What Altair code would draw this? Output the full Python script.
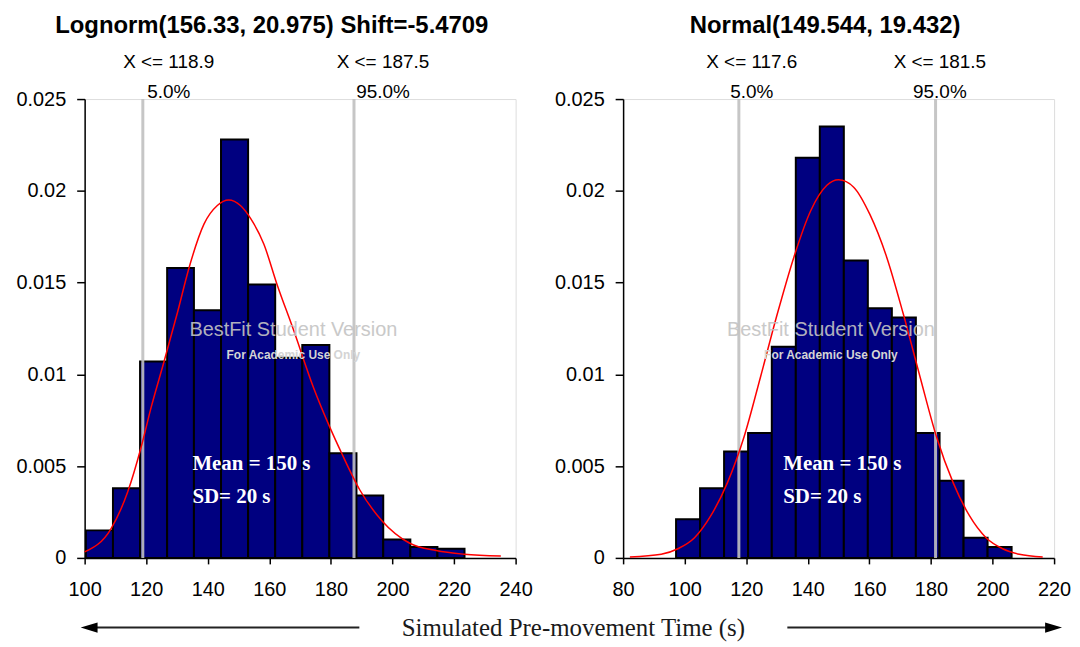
import altair as alt
import pandas as pd

# ---------------- Left panel: Lognorm fit ----------------
left_title = "Lognorm(156.33, 20.975) Shift=-5.4709"
left_ticks = [100, 120, 140, 160, 180, 200, 220, 240]
left_bin_lo = [100.4, 109.2, 118.0, 126.8, 135.5, 144.3, 153.1, 161.9, 170.7, 179.5, 188.3, 197.0, 205.8, 214.6]
left_bin_hi = [109.2, 118.0, 126.8, 135.5, 144.3, 153.1, 161.9, 170.7, 179.5, 188.3, 197.0, 205.8, 214.6, 223.4]
left_density = [0.0015, 0.0038, 0.0107, 0.0158, 0.0135, 0.0228, 0.0149, 0.0109, 0.0116, 0.0057, 0.0034, 0.0010, 0.0006, 0.0005]
left_curve_x = [100.0, 108.6, 114.0, 118.3, 121.6, 125.8, 130.2, 133.9, 138.8, 143.1, 146.8, 150.6, 153.9,
                158.2, 162.5, 167.9, 174.3, 179.7, 183.5, 189.4, 196.7, 205.6, 214.2, 223.3, 235.2]
left_curve_y = [0.00033, 0.0016, 0.0036, 0.0060, 0.0082, 0.0107, 0.0134, 0.0158, 0.0182, 0.0192, 0.0195, 0.0192, 0.0185,
                0.0171, 0.0149, 0.0124, 0.0093, 0.0071, 0.0057, 0.0037, 0.0020, 0.0008, 0.0004, 0.0002, 0.0001]
left_cutoffs = [118.9, 187.5]
left_cut_text = ["X <= 118.9", "X <= 187.5"]
left_pct_text = ["5.0%", "95.0%"]

# ---------------- Right panel: Normal fit ----------------
right_title = "Normal(149.544, 19.432)"
right_ticks = [80, 100, 120, 140, 160, 180, 200, 220]
right_bin_lo = [97.2, 105.0, 112.8, 120.6, 128.3, 136.1, 143.9, 151.7, 159.5, 167.3, 175.1, 182.8, 190.6, 198.4]
right_bin_hi = [105.0, 112.8, 120.6, 128.3, 136.1, 143.9, 151.7, 159.5, 167.3, 175.1, 182.8, 190.6, 198.4, 206.2]
right_density = [0.0021, 0.0038, 0.0058, 0.0068, 0.0115, 0.0218, 0.0235, 0.0162, 0.0136, 0.0131, 0.0068, 0.0042, 0.0011, 0.0006]
right_curve_x = [82.2, 92.4, 97.8, 103.2, 108.5, 113.9, 119.3, 124.7, 130.1, 135.5, 140.9, 146.2, 150.0,
                 154.9, 160.2, 165.6, 171.0, 176.4, 181.8, 187.2, 192.5, 197.9, 203.3, 208.7, 216.3]
right_curve_y = [0.00005, 0.0002, 0.0005, 0.0011, 0.0023, 0.0041, 0.0066, 0.0099, 0.0133, 0.0164, 0.0189, 0.0203, 0.0206,
                 0.0202, 0.0187, 0.0164, 0.0133, 0.0099, 0.0066, 0.0041, 0.0023, 0.0011, 0.0005, 0.0002, 0.00005]
right_cutoffs = [117.6, 181.5]
right_cut_text = ["X <= 117.6", "X <= 181.5"]
right_pct_text = ["5.0%", "95.0%"]

# annotation anchors (data units)
left_label_x = [127.3, 196.9]
right_label_x = [121.8, 182.9]
stats_text = ["Mean = 150 s", "SD= 20 s"]
stats_y = [0.00478, 0.00298]
watermark_text = ["BestFit Student Version", "For Academic Use Only"]
watermark_y = [0.01243, 0.01105]

W, H = 433, 461
SANS = "Liberation Sans"
SERIF = "Liberation Serif"


def panel(title, title_px, ticks, lo, hi, dens, cx, cy, cuts, cut_text, pct_text, label_x,
          stats_x, wm_x, extra=None):
    xs = alt.Scale(domain=[ticks[0], ticks[-1]], nice=False, zero=False)
    ys = alt.Scale(domain=[0, 0.025], nice=False)
    xax = alt.Axis(values=ticks, title=None, grid=False, tickSize=6, labelPadding=16,
                   labelFont=SANS, labelFontSize=20, labelColor="#000", labelFlush=False,
                   labelOverlap=False, domainColor="#000", domainWidth=1.5, tickColor="#000",
                   tickWidth=1.5)
    yax = alt.Axis(values=[0, 0.005, 0.01, 0.015, 0.02, 0.025], format=".3~f", title=None, grid=False,
                   tickSize=8, labelPadding=11, labelFont=SANS, labelFontSize=20, labelColor="#000",
                   labelFlush=False, labelOverlap=False, domainColor="#000", domainWidth=1.5,
                   tickColor="#000", tickWidth=1.5)

    bars_df = pd.DataFrame({"lo": lo, "hi": hi, "d": dens})
    bars = alt.Chart(bars_df).mark_rect(fill="#000080", stroke="#000000", strokeWidth=2).encode(
        x=alt.X("lo:Q", scale=xs, axis=xax),
        x2="hi:Q",
        y=alt.Y("d:Q", scale=ys, axis=yax),
        y2=alt.datum(0),
    )

    cut_df = pd.DataFrame({"c": cuts, "t": cut_text, "p": pct_text, "lx": label_x})
    rules = alt.Chart(cut_df).mark_rule(color="#c0c0c0", strokeWidth=3, opacity=0.9).encode(
        x="c:Q", y=alt.datum(0), y2=alt.datum(0.025)
    )
    cut_lbl = alt.Chart(cut_df).mark_text(font=SANS, fontSize=19, baseline="alphabetic",
                                          align="center", color="#000").encode(
        x="lx:Q", y=alt.value(-31), text="t:N")
    pct_lbl = alt.Chart(cut_df).mark_text(font=SANS, fontSize=19, baseline="alphabetic",
                                          align="center", color="#000").encode(
        x="lx:Q", y=alt.value(-1), text="p:N")

    curve_df = pd.DataFrame({"x": cx, "y": cy})
    curve = alt.Chart(curve_df).mark_line(color="#ff0000", strokeWidth=1.5, interpolate="monotone").encode(
        x="x:Q", y="y:Q")

    wm_df = pd.DataFrame({"t": watermark_text, "y": watermark_y, "x": [wm_x, wm_x],
                          "fs": [20, 12], "fw": ["normal", "bold"]})
    wm1 = alt.Chart(wm_df.iloc[[0]]).mark_text(font=SANS, fontSize=20, color="#c4c4c4", opacity=0.9,
                                               baseline="middle", align="center").encode(
        x="x:Q", y="y:Q", text="t:N")
    wm2 = alt.Chart(wm_df.iloc[[1]]).mark_text(font=SANS, fontSize=12, fontWeight="bold", color="#d4d4d4",
                                               baseline="middle", align="center").encode(
        x="x:Q", y="y:Q", text="t:N")

    st_df = pd.DataFrame({"t": stats_text, "y": stats_y, "x": [stats_x, stats_x]})
    stats = alt.Chart(st_df).mark_text(font=SERIF, fontSize=21, fontWeight="bold", color="#ffffff",
                                       baseline="alphabetic", align="left").encode(
        x="x:Q", y="y:Q", text="t:N")

    ttl_df = pd.DataFrame({"t": [title]})
    ttl = alt.Chart(ttl_df).mark_text(font=SANS, fontSize=24, fontWeight="bold", color="#000",
                                      baseline="alphabetic", align="center").encode(
        x=alt.value(title_px), y=alt.value(-66), text="t:N")

    layers = [bars, rules, curve, wm1, wm2, stats, cut_lbl, pct_lbl, ttl]
    if extra:
        layers += extra
    return alt.layer(*layers).properties(width=W, height=H)


# shared x-axis caption with arrows (drawn in the left panel's frame)
cap_df = pd.DataFrame({"t": ["Simulated Pre-movement Time (s)"]})
caption = alt.Chart(cap_df).mark_text(font=SERIF, fontSize=25, color="#1a1a1a",
                                      baseline="alphabetic", align="center").encode(
    x=alt.value(491), y=alt.value(539), text="t:N")
arrow_l = alt.Chart(cap_df).mark_rule(color="#222222", strokeWidth=2).encode(
    x=alt.value(8), x2=alt.value(276), y=alt.value(531))
arrow_r = alt.Chart(cap_df).mark_rule(color="#222222", strokeWidth=2).encode(
    x=alt.value(706), x2=alt.value(972), y=alt.value(531))
head_l = alt.Chart(cap_df).mark_point(shape="M -1 0 L 1 -0.6 L 1 0.6 Z", size=289, filled=True,
                                      fill="#000", strokeWidth=0, opacity=1).encode(
    x=alt.value(4.5), y=alt.value(531))
head_r = alt.Chart(cap_df).mark_point(shape="M 1 0 L -1 -0.6 L -1 0.6 Z", size=289, filled=True,
                                      fill="#000", strokeWidth=0, opacity=1).encode(
    x=alt.value(973.5), y=alt.value(531))

left = panel(left_title, 188, left_ticks, left_bin_lo, left_bin_hi, left_density, left_curve_x,
             left_curve_y, left_cutoffs, left_cut_text, left_pct_text, left_label_x,
             135.0, 167.8, extra=[caption, arrow_l, arrow_r, head_l, head_r])
right = panel(right_title, 203, right_ticks, right_bin_lo, right_bin_hi, right_density, right_curve_x,
              right_curve_y, right_cutoffs, right_cut_text, right_pct_text, right_label_x,
              132.0, 147.5)

chart = alt.hconcat(left, right, spacing=108, bounds="flush",
                    padding={"left": 7, "top": 4, "right": 0, "bottom": 0}).configure_view(
    stroke="#8c8c8c", strokeWidth=2
).configure(background="#ffffff")

chart.save("out.html", embed_options={"renderer": "svg", "actions": False})
